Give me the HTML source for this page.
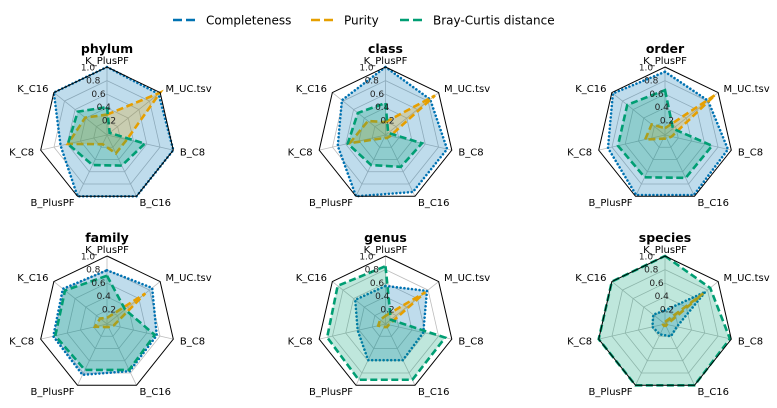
<!DOCTYPE html>
<html><head><meta charset="utf-8">
<style>
html,body{margin:0;padding:0;background:#fff;}
svg{display:block;font-family:"DejaVu Sans","Liberation Sans",sans-serif;}
</style></head>
<body>
<svg id="chart" width="777" height="408" viewBox="0 0 777 408" xmlns="http://www.w3.org/2000/svg">
<g>
  <g>
    <line x1="173" y1="20" x2="197" y2="20" stroke="#0072B2" stroke-width="2.5" stroke-dasharray="9,4"/>
    <text x="206" y="24.5" font-size="12" fill="#000">Completeness</text>
  </g>
  <g>
    <line x1="311" y1="20" x2="335" y2="20" stroke="#E69F00" stroke-width="2.5" stroke-dasharray="9,4"/>
    <text x="344" y="24.5" font-size="12" fill="#000">Purity</text>
  </g>
  <g>
    <line x1="400" y1="20" x2="424" y2="20" stroke="#009E73" stroke-width="2.5" stroke-dasharray="9,4"/>
    <text x="433" y="24.5" font-size="12" fill="#000">Bray-Curtis distance</text>
  </g>
</g>
<g id="panels"></g>
</svg>
<script>
const categories = ["K_PlusPF","M_UC.tsv","B_C8","B_C16","B_PlusPF","K_C8","K_C16"];
const ranks = ["phylum","class","order","family","genus","species"];
const completeness = [
  [1.0,0.97,1.0,1.0,1.0,0.7,1.0],
  [1.0,0.84,0.93,0.93,1.0,0.72,0.82],
  [0.93,0.81,0.95,0.98,0.98,0.86,0.98],
  [0.79,0.85,0.75,0.77,0.83,0.81,0.83],
  [0.56,0.78,0.57,0.59,0.59,0.42,0.57],
  [0.2,0.76,0.18,0.2,0.17,0.19,0.22]
];
const purity = [
  [0.3,1.0,0.3,0.3,0.15,0.59,0.41],
  [0.19,0.93,0.07,0.05,0.05,0.54,0.33],
  [0.1,0.94,0.1,0.06,0.06,0.3,0.25],
  [0.09,0.72,0.1,0.05,0.05,0.18,0.13],
  [0.12,0.75,0.05,0.05,0.05,0.11,0.1],
  [0.03,0.72,0.03,0.03,0.03,0.03,0.03]
];
const brayCurtis = [
  [0.41,0.05,0.57,0.5,0.49,0.59,0.55],
  [0.47,0.05,0.55,0.52,0.49,0.57,0.52],
  [0.66,0.15,0.71,0.7,0.69,0.71,0.71],
  [0.71,0.34,0.72,0.75,0.75,0.78,0.79],
  [0.85,0.1,0.9,0.91,0.91,0.88,0.9],
  [1.0,0.85,0.98,1.0,1.0,1.0,1.0]
];
const rTicks = [0.2,0.4,0.6,0.8,1.0];
const rTickLabels = ["0.2","0.4","0.6","0.8","1.0"];

const NS = "http://www.w3.org/2000/svg";
const R = 68;
const centersX = [107,385.5,665];
const centersY = [135,324];
const seriesList = [
  {data: completeness, color:"#0072B2", dash:"0.01,3.8", cap:"round", name:"completeness"},
  {data: purity, color:"#E69F00", dash:"7,3.5", cap:"butt", name:"purity"},
  {data: brayCurtis, color:"#009E73", dash:"7,3.5", cap:"butt", name:"bray-curtis"}
];
function ang(i){ return i*2*Math.PI/categories.length; }
function pt(cx,cy,i,r){ const a=ang(i); return [cx+R*r*Math.sin(a), cy-R*r*Math.cos(a)]; }
function poly(cx,cy,vals){ return vals.map((v,i)=>pt(cx,cy,i,v).map(n=>n.toFixed(2)).join(",")).join(" "); }
function mk(tag, attrs, parent){ const e=document.createElementNS(NS,tag); for(const k in attrs) e.setAttribute(k,attrs[k]); parent.appendChild(e); return e; }

const panels = document.getElementById("panels");
ranks.forEach((rank,p)=>{
  const cx = centersX[p%3], cy = centersY[Math.floor(p/3)];
  const g = mk("g",{},panels);
  
  
  rTicks.forEach((t,k)=>{
    if (t<1) {
      const ring = mk("polygon",{points:poly(cx,cy,categories.map(()=>t)),fill:"none",stroke:"#bdbdbd","stroke-width":"0.8"},g);
      
      
    }
  });
  categories.forEach((c,i)=>{
    const e = pt(cx,cy,i,1);
    const sp = mk("line",{x1:cx,y1:cy,x2:e[0],y2:e[1],stroke:"#bdbdbd","stroke-width":"0.8"},g);
    
    
  });
  seriesList.forEach(s=>{
    const vals = s.data[p];
    const f = mk("polygon",{points:poly(cx,cy,vals),fill:s.color,"fill-opacity":"0.25",stroke:"none"},g);
    
    
    const l = mk("polygon",{points:poly(cx,cy,vals),fill:"none",stroke:s.color,"stroke-width":"2.6","stroke-dasharray":s.dash,"stroke-linecap":s.cap},g);
    
    
  });
  const fr = mk("polygon",{points:poly(cx,cy,categories.map(()=>1)),fill:"none",stroke:"#000","stroke-width":"1"},g);
  
  
  rTicks.forEach((t,k)=>{
    const tx = mk("text",{x:cx+7.25-26.25*t,y:cy-66*t+1.5,"font-size":"9","text-anchor":"middle",fill:"#222"},g);
    tx.textContent = rTickLabels[k];
    
    
  });
  categories.forEach((c,i)=>{
    const q = pt(cx,cy,i,1.1);
    const s = Math.sin(ang(i));
    const anchor = Math.abs(s)<0.01 ? "middle" : (s>0 ? "start":"end");
    const tx = mk("text",{x:q[0],y:q[1]+3.8,"font-size":"10","text-anchor":anchor,fill:"#000"},g);
    tx.textContent = c;
    
    
  });
  const ti = mk("text",{x:cx,y:cy-82,"font-size":"12.5","font-weight":"bold","text-anchor":"middle",fill:"#000"},g);
  ti.textContent = rank;
  
  
});
</script>
</body></html>
